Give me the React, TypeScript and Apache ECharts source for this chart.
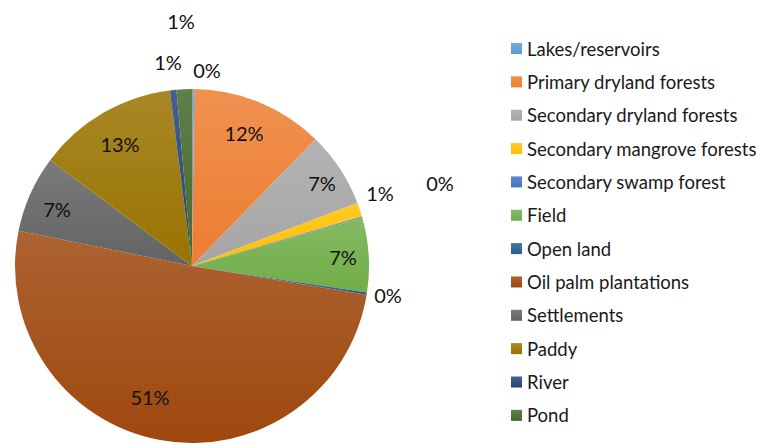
import React, { useEffect, useRef } from "react";
import * as echarts from "echarts";

const categories = [
  "Lakes/reservoirs",
  "Primary dryland forests",
  "Secondary dryland forests",
  "Secondary mangrove forests",
  "Secondary swamp forest",
  "Field",
  "Open land",
  "Oil palm plantations",
  "Settlements",
  "Paddy",
  "River",
  "Pond",
];

const shares = [0.2, 12.1, 6.9, 1.3, 0.1, 6.8, 0.2, 50.6, 7.0, 12.8, 0.6, 1.4];

const colors = [
  "#5B9BD5", "#ED7D31", "#A5A5A5", "#FFC000", "#4472C4", "#70AD47",
  "#255E91", "#9E480E", "#636363", "#997300", "#264478", "#43682B",
];

// label centres (styling / placement only)
const labelSpots: Record<number, [number, number]> = {
  0: [207, 70],
  1: [244, 133],
  2: [322, 183],
  3: [380, 193],
  4: [440, 183],
  5: [343, 257],
  6: [388, 295],
  7: [150, 397],
  8: [57, 209],
  9: [120, 144],
  10: [168, 62],
  11: [181, 21],
};

function lighten(hex: string, t: number) {
  const n = parseInt(hex.slice(1), 16);
  const r = (n >> 16) & 255, g = (n >> 8) & 255, b = n & 255;
  const f = (c: number) => Math.round(c + (255 - c) * t);
  return `rgb(${f(r)},${f(g)},${f(b)})`;
}

export default function App() {
  const ref = useRef<HTMLDivElement>(null);
  useEffect(() => {
    if (!ref.current) return;
    const chart = echarts.init(ref.current, null, { renderer: "svg" });
    const total = shares.reduce((a, b) => a + b, 0);
    chart.setOption({
      animation: false,
      legend: {
        orient: "vertical",
        left: 506,
        top: 34,
        padding: [5, 0, 5, 5],
        itemWidth: 11,
        itemHeight: 11,
        itemGap: 14.35,
        icon: "rect",
        data: categories,
        textStyle: {
          fontFamily: "Lato",
          fontSize: 18.5,
          color: "#1a1a1a",
        },
      },
      series: [
        {
          type: "pie",
          center: [192, 266],
          radius: 177,
          startAngle: 90,
          clockwise: true,
          avoidLabelOverlap: false,
          data: categories.map((name, i) => ({
            name,
            value: shares[i],
            itemStyle: {
              color: new echarts.graphic.LinearGradient(0, 0, 0, 1, [
                { offset: 0, color: lighten(colors[i], 0.15) },
                { offset: 1, color: colors[i] },
              ]),
            },
          })),
          legendHoverLink: false,
          label: {
            show: true,
            position: "inside",
            formatter: (p: any) => Math.round((p.value / total) * 100) + "%",
            fontFamily: "Lato",
            fontSize: 20,
            color: "#111",
          },
          labelLine: { show: false },
          labelLayout: (p: any) => {
            const s = labelSpots[p.dataIndex];
            return s ? { x: s[0], y: s[1], align: "center", verticalAlign: "middle" } : {};
          },
          emphasis: { disabled: true },
        },
      ],
    });
    return () => chart.dispose();
  }, []);
  return (
    <div
      ref={ref}
      style={{ position: "fixed", left: 0, top: 0, width: 760, height: 448, background: "#fff" }}
    />
  );
}
